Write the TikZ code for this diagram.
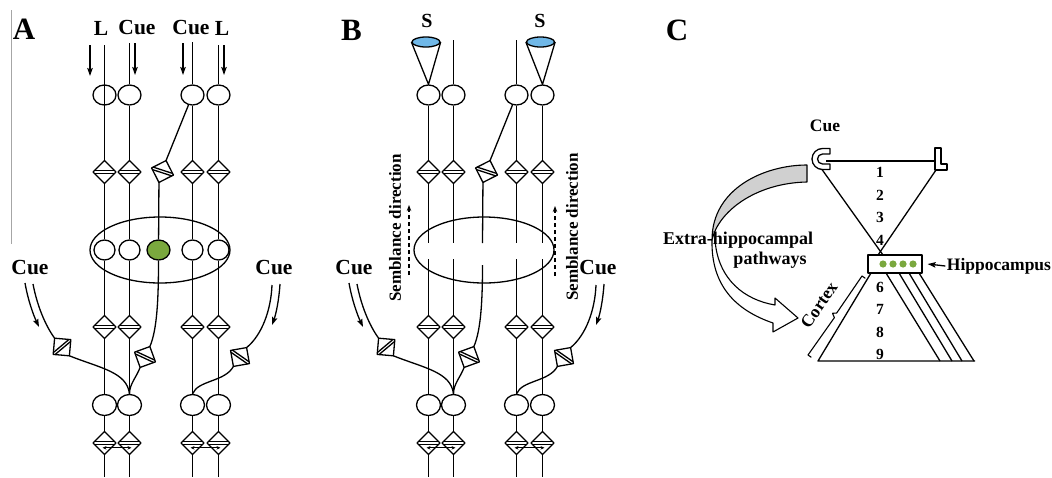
\documentclass[tikz,border=0pt]{standalone}
\usepackage{fontspec}
\setmainfont{Liberation Serif}
\usetikzlibrary{shapes.geometric,arrows.meta}

\definecolor{cellgreen}{RGB}{122,168,62}
\definecolor{capblue}{RGB}{112,184,232}
\definecolor{bandgray}{RGB}{208,208,208}

\tikzset{
  cell/.style={ellipse, draw, fill=white, inner sep=0pt, minimum width=23pt, minimum height=20pt},
  midcell/.style={cell, minimum width=21pt},
  lowcell/.style={cell, minimum width=24pt, minimum height=21pt},
  assembly/.style={ellipse, draw, inner sep=0pt, minimum width=140pt, minimum height=66pt},
  capcone/.style={ellipse, draw, fill=capblue, inner sep=0pt, minimum width=28pt, minimum height=10pt},
  lab/.style={font=\bfseries\fontsize{21.5}{23}\selectfont, inner sep=1pt},
  slab/.style={font=\bfseries\fontsize{20}{22}\selectfont, inner sep=1pt},
  semlab/.style={font=\bfseries\fontsize{17}{19}\selectfont, inner sep=1pt, rotate=90},
  panel/.style={font=\bfseries\fontsize{31}{33}\selectfont, inner sep=0pt},
  clab/.style={font=\bfseries\fontsize{17.5}{19}\selectfont, inner sep=1pt},
  elab/.style={font=\bfseries\fontsize{18}{20}\selectfont, inner sep=1pt},
  num/.style={font=\bfseries\fontsize{15.5}{16}\selectfont, inner sep=0pt},
  arr/.style={-{Stealth[length=8pt,width=5.5pt,inset=1.5pt]}},
  dblarr/.style={line width=0.9pt,{Stealth[length=4pt,width=3.5pt]}-{Stealth[length=4pt,width=3.5pt]}},
  semarr/.style={dash pattern=on 4pt off 3pt, -{Stealth[length=6pt,width=4.5pt]}},
  syn/.pic={
    \draw[fill=white] (0,-11.5) -- (11.5,0) -- (0,11.5) -- (-11.5,0) -- cycle;
    \draw[line width=1.3pt] (-10.2,-1.3) -- (10.2,-1.3) (-10.2,1.3) -- (10.2,1.3);
    \coordinate (-in) at (0,-11.5);
    \coordinate (-out) at (0,11.5);
    \coordinate (-lo) at (0,4.8);
  },
}

% one vertical cell column (everything except the middle row)
\newcommand\cellcol[3]{% #1 prefix, #2 index, #3 x
  \node[cell] (#1t#2) at (#3,95) {};
  \pic (#1s#2) at (#3,172) {syn};
  \pic (#1r#2) at (#3,327) {syn};
  \node[lowcell] (#1l#2) at (#3,405) {};
  \pic (#1q#2) at (#3,443) {syn};
  \coordinate (#1e#2) at (#3,477);
  \draw (#1t#2) -- (#1s#2-in);
  \draw (#1r#2-out) -- (#1l#2);
  \draw (#1l#2) -- (#1q#2-in);
  \draw (#1q#2-out) -- (#1e#2);
}

% parts shared by the two network panels
\newcommand\network[1]{%
  \node[assembly] (#1asm) at (160,250) {};
  \cellcol{#1}{1}{104.5}
  \cellcol{#1}{2}{129.5}
  \cellcol{#1}{4}{192.5}
  \cellcol{#1}{5}{218.5}
  \draw[dblarr] ([xshift=-2pt]#1q1-lo) -- ([xshift=2pt]#1q2-lo);
  \draw[dblarr] ([xshift=-2pt]#1q4-lo) -- ([xshift=2pt]#1q5-lo);
  % central column
  \pic[rotate=-18] (#1c1) at (162.5,171.5) {syn};
  \pic[rotate=-25] (#1c2) at (145,357) {syn};
  \draw (#1t4) -- (#1c1-in);
  \draw (#1c2-out) .. controls (136,378) and (129.5,384) .. (#1l2.north);
  % cue input on the left
  \node[lab] (#1cueL) at (30,268) {Cue};
  \coordinate (#1cueLa) at (25,283);
  \coordinate (#1cueLb) at (39,327);
  \coordinate (#1cueLc) at (33,284);
  \draw[arr] (#1cueLa) .. controls (28,300) and (33,314) .. (#1cueLb);
  \pic[rotate=40] (#1cL) at (62,347) {syn};
  \draw (#1cueLc) .. controls (37,305) and (45,325) .. (#1cL-in);
  \draw (#1cL-out) .. controls (100,368) and (127,372) .. (#1l2.north);
  % cue input on the right
  \node[lab] (#1cueR) at (274,268) {Cue};
  \coordinate (#1cueRa) at (280,284);
  \coordinate (#1cueRb) at (272,325);
  \coordinate (#1cueRc) at (272,285);
  \draw[arr] (#1cueRa) .. controls (279,300) and (276,314) .. (#1cueRb);
  \pic[rotate=-35] (#1cR) at (240,357) {syn};
  \draw (#1cueRc) .. controls (271,310) and (262,335) .. (#1cR-in);
  \draw (#1cR-out) .. controls (225,382) and (198,380) .. (#1l4.north);
}

\begin{document}
\begin{tikzpicture}[x=1pt, y=-1pt, line width=1.3pt, line join=round]
\useasboundingbox (0,0) rectangle (1052,477);
\fill[white] (0,0) rectangle (1052,477);

% panel letters
\node[panel] (pA) at (24,29) {A};
\node[panel] (pB) at (351.5,30) {B};
\node[panel] (pC) at (677,30) {C};
\draw[gray!70, line width=0.8pt] (11,10) -- (11,244);

% ---------------- panel A ----------------
\begin{scope}
  \network{a}
  \node[midcell] (am1) at (104.5,250) {};
  \node[midcell] (am2) at (129.5,250) {};
  \node[midcell] (am4) at (192.5,250) {};
  \node[midcell] (am5) at (218.5,250) {};
  \node[cell, fill=cellgreen] (ag) at (158.5,250) {};
  \draw (as1-out) -- (am1);  \draw (am1) -- (ar1-in);
  \draw (as2-out) -- (am2);  \draw (am2) -- (ar2-in);
  \draw (as4-out) -- (am4);  \draw (am4) -- (ar4-in);
  \draw (as5-out) -- (am5);  \draw (am5) -- (ar5-in);
  \draw (ac1-out) -- (ag);
  \draw (ag.south) .. controls (158.5,300) and (157,330) .. (ac2-in);
  % inputs at the top
  \coordinate (atop1) at (104.5,45);
  \coordinate (atop2) at (129.5,43);
  \coordinate (atop4) at (192.5,42);
  \coordinate (atop5) at (218.5,45);
  \draw (atop1) -- (at1.south);
  \draw (atop2) -- (at2);
  \draw (atop4) -- (at4);
  \draw (atop5) -- (at5);
  \node[lab] (aL1) at (101,28) {L};
  \node[lab] (aCue1) at (137,28) {Cue};
  \node[lab] (aCue2) at (191,28) {Cue};
  \node[lab] (aL2) at (222,28) {L};
  \coordinate (aw1a) at (90,45);  \coordinate (aw1b) at (90,76);
  \coordinate (aw2a) at (135,43); \coordinate (aw2b) at (135,75);
  \coordinate (aw4a) at (183,43); \coordinate (aw4b) at (183,75);
  \coordinate (aw5a) at (224,45); \coordinate (aw5b) at (224,75);
  \draw[arr] (aw1a) -- (aw1b);
  \draw[arr] (aw2a) -- (aw2b);
  \draw[arr] (aw4a) -- (aw4b);
  \draw[arr] (aw5a) -- (aw5b);
\end{scope}

% ---------------- panel B ----------------
\begin{scope}[xshift=324pt]
  \network{b}
  \coordinate (bm1a) at (104.5,243); \coordinate (bm1b) at (104.5,259);
  \coordinate (bm2a) at (129.5,243); \coordinate (bm2b) at (129.5,259);
  \coordinate (bm4a) at (192.5,243); \coordinate (bm4b) at (192.5,259);
  \coordinate (bm5a) at (218.5,243); \coordinate (bm5b) at (218.5,259);
  \coordinate (bga) at (158.5,243);  \coordinate (bgb) at (158.5,265);
  \draw (bs1-out) -- (bm1a);  \draw (bm1b) -- (br1-in);
  \draw (bs2-out) -- (bm2a);  \draw (bm2b) -- (br2-in);
  \draw (bs4-out) -- (bm4a);  \draw (bm4b) -- (br4-in);
  \draw (bs5-out) -- (bm5a);  \draw (bm5b) -- (br5-in);
  \draw (bc1-out) -- (bga);
  \draw (bgb) .. controls (158.5,300) and (157,330) .. (bc2-in);
  % sensory cones
  \node[capcone] (bS1) at (102,42) {};
  \node[capcone] (bS2) at (216.5,42) {};
  \draw (bS1.west) -- (bt1.north) -- (bS1.east);
  \draw (bS2.west) -- (bt5.north) -- (bS2.east);
  \node[slab] (bSl1) at (103,21) {S};
  \node[slab] (bSl2) at (216,21) {S};
  \coordinate (btop2) at (129.5,40);
  \coordinate (btop4) at (192.5,40);
  \draw (btop2) -- (bt2);
  \draw (btop4) -- (bt4);
  % semblance direction
  \node[semlab] (bsem1) at (71,228) {Semblance direction};
  \node[semlab] (bsem2) at (248,227) {Semblance direction};
  \coordinate (bd1a) at (85,275); \coordinate (bd1b) at (85,205);
  \coordinate (bd2a) at (231,276); \coordinate (bd2b) at (231,206);
  \draw[semarr] (bd1a) -- (bd1b);
  \draw[semarr] (bd2a) -- (bd2b);
\end{scope}

% ---------------- panel C ----------------
\node[clab] (cueC) at (825,126) {Cue};
% cue cup and landmark
\draw[fill=white] (830,148.5) -- (822.5,148.5) arc[start angle=270,end angle=90,radius=10.5]
  -- (830,169.5) -- (830,164) -- (822.5,164) arc[start angle=90,end angle=270,radius=5]
  -- (830,154) -- cycle;
\draw[fill=white] (935,148) -- (941,148) -- (941,164) -- (947,164) -- (947,170) -- (935,170) -- cycle;
\coordinate (cupm) at (826,161);
\coordinate (lmside) at (935,161);
\coordinate (cupb) at (822,169.5);
\coordinate (lmb) at (936,170);
\coordinate (hl1) at (883,255);
\coordinate (hl2) at (878,255);
\draw (cupm) -- (lmside);
\draw (cupb) -- (hl1);
\draw (lmb) -- (hl2);
% hippocampus
\node[draw, fill=white, inner sep=0pt, minimum width=54pt, minimum height=18pt] (hbox) at (895,264) {};
\foreach \x in {883,893,903,913} \fill[cellgreen] (\x,264) circle[radius=3.6];
\node[clab] (hip) at (999,266) {Hippocampus};
\draw[arr] (hip.west) -- ([xshift=5pt]hbox.east);
% layer numbers
\foreach \n/\y in {1/172,2/195,3/217,4/240,6/287,7/309,8/332,9/354}
  \node[num] (n\n) at (880,\y) {\n};
% cortical fan
\coordinate (hb0) at (871,273);  \coordinate (bs0) at (818,361);  \coordinate (bsr) at (975,361);
\coordinate (hb1) at (886,273);  \coordinate (bs1) at (940,361);
\coordinate (hb2) at (899,273);  \coordinate (bs2) at (952,361);
\coordinate (hb3) at (909,273);  \coordinate (bs3) at (962,361);
\coordinate (hb4) at (919,273);  \coordinate (bs4) at (974,361);
\draw (hb0) -- (bs0) -- (bsr);
\draw (hb1) -- (bs1);
\draw (hb2) -- (bs2);
\draw (hb3) -- (bs3);
\draw (hb4) -- (bs4);
% cortex bracket
\draw[line width=1.1pt] (865.3,278.3) -- (862,276) -- (836.7,313) -- (832.5,313.3) -- (834.4,317.6) -- (808,355) -- (811.3,357.3);
\node[clab, rotate=55.6] (cortex) at (819,305) {Cortex};
% extra-hippocampal ribbon arrow
\draw[fill=bandgray, line width=1.1pt] (807,165) .. controls (765,165) and (712,188) .. (712,240)
  .. controls (718,212) and (755,183) .. (807,182) -- cycle;
\draw[line width=1.1pt] (712,240) .. controls (711,285) and (735,310) .. (773,323) -- (773,332) -- (798,318)
  -- (775,298) -- (775,305) .. controls (745,300) and (718,280) .. (715,240);
\node[elab] (ext1) at (738,240) {Extra-hippocampal};
\node[elab] (ext2) at (770,260) {pathways};
\end{tikzpicture}
\end{document}
